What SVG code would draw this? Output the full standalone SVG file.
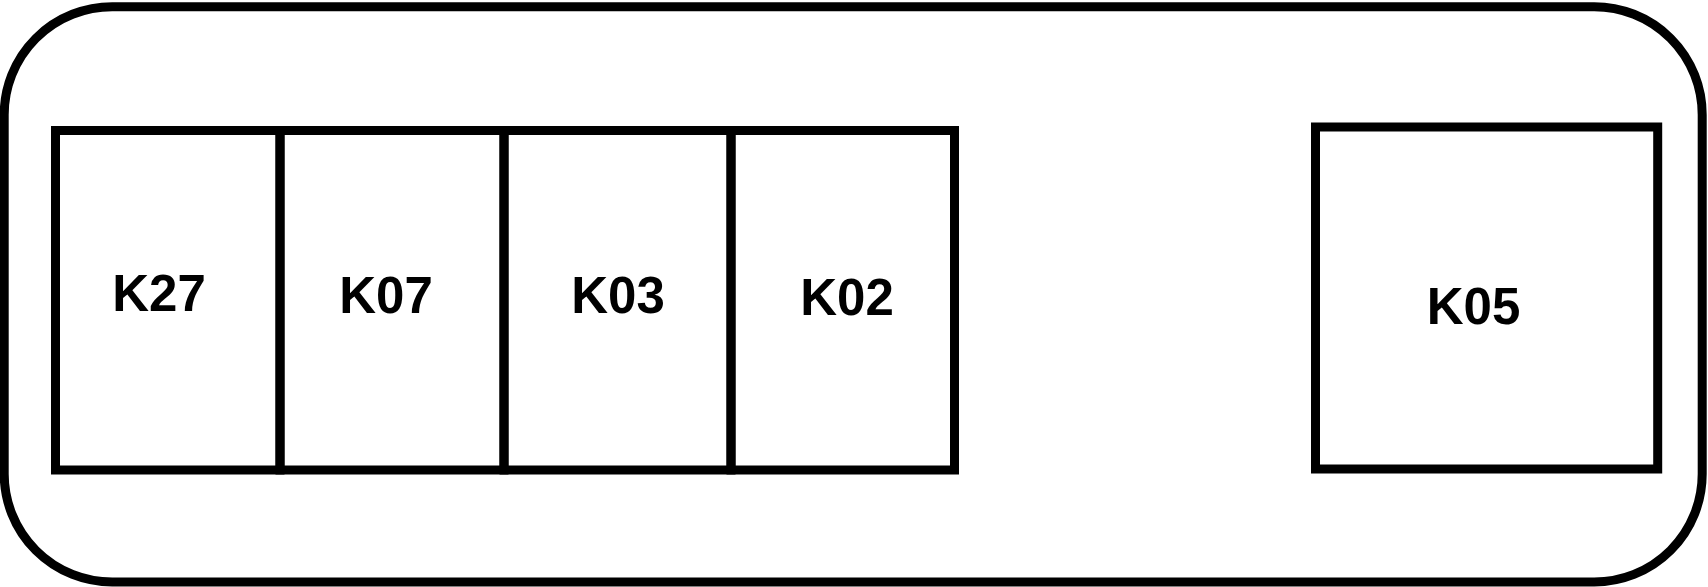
<svg xmlns="http://www.w3.org/2000/svg" width="1708" height="587" viewBox="0 0 1708 587">
<style>
.b{fill:none;stroke:#000;stroke-width:9}
.t{font-family:"Liberation Sans",Arial,sans-serif;font-weight:bold;font-size:51px;fill:#000;text-anchor:middle}
</style>
<rect width="1708" height="587" fill="#fff"/>
<g id="enclosure"><rect class="b" x="4.2" y="6.7" width="1698" height="575.3" rx="108" ry="108"/></g>
<g id="K27"><rect class="b" x="55.5" y="130.5" width="224.5" height="339.5"/><text class="t" x="159" y="310.7">K27</text></g>
<g id="K07"><rect class="b" x="280" y="130.5" width="224" height="339.5"/><text class="t" x="386" y="313.3">K07</text></g>
<g id="K03"><rect class="b" x="504" y="130.5" width="227" height="339.5"/><text class="t" x="618" y="313.3">K03</text></g>
<g id="K02"><rect class="b" x="731" y="130.5" width="223.5" height="339.5"/><text class="t" x="847" y="315">K02</text></g>
<g id="K05"><rect class="b" x="1315.5" y="127" width="342.2" height="342"/><text class="t" x="1473.5" y="324">K05</text></g>
<g id="connectors"></g>
</svg>
